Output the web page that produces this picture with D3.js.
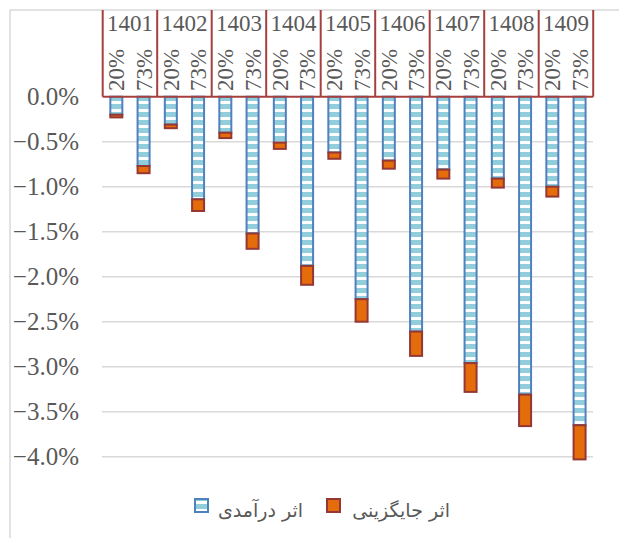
<!DOCTYPE html>
<html>
<head>
<meta charset="utf-8">
<script src="https://cdn.jsdelivr.net/npm/d3@7.9.0/dist/d3.min.js"></script>
<style>
  body { margin: 0; background: #fff; }
  svg { display: block; }
</style>
</head>
<body>
<svg id="chart" width="619" height="538"></svg>
<script>
// years on the outer category axis, rates on the inner one
const years = ['1401', '1402', '1403', '1404', '1405', '1406', '1407', '1408', '1409'];
const rates = ['20%', '73%'];

// income effect (blue, striped) in %, [20%, 73%] per year
const incomeEffect = [
    [-0.20, -0.77], [-0.31, -1.14], [-0.40, -1.52], [-0.51, -1.88], [-0.62, -2.25],
    [-0.71, -2.61], [-0.81, -2.96], [-0.91, -3.31], [-1.00, -3.65]
];
// substitution effect (orange) in %, stacked below the income effect
const substitutionEffect = [
    [-0.03, -0.08], [-0.04, -0.13], [-0.06, -0.17], [-0.07, -0.21], [-0.07, -0.25],
    [-0.09, -0.27], [-0.10, -0.32], [-0.10, -0.35], [-0.11, -0.38]
];
const yTicks = [0, -0.5, -1, -1.5, -2, -2.5, -3, -3.5, -4];
const legendLabels = ['اثر درآمدی', 'اثر جایگزینی'];

const svg = d3.select('#chart');
const gray = '#595959';
const axisRed = '#a5403f';
const serif = "'Liberation Serif', 'Times New Roman', serif";

// chart frame (right/bottom edges run off the page)
svg.append('rect')
    .attr('x', 10).attr('y', 10)
    .attr('width', 640).attr('height', 560)
    .attr('fill', 'none').attr('stroke', '#d9d9d9').attr('stroke-width', 1.5);

// stripe pattern for income bars
const defs = svg.append('defs');
const pat = defs.append('pattern')
    .attr('id', 'stripes').attr('patternUnits', 'userSpaceOnUse')
    .attr('width', 8).attr('height', 8);
pat.append('rect').attr('width', 8).attr('height', 8).attr('fill', '#ffffff');
pat.append('rect').attr('width', 8).attr('height', 5).attr('fill', '#92cddc');

const x0 = d3.scaleBand().domain(years).range([102.7, 593.2]);
const x1 = d3.scaleBand().domain(rates).range([0, x0.bandwidth()]);
const y = d3.scaleLinear().domain([-4, 0]).range([456.7, 96.7]);
const barW = 12;

// gridlines
svg.append('g')
    .selectAll('line')
    .data(yTicks.filter(d => d !== 0))
    .join('line')
    .attr('x1', 102).attr('x2', 593)
    .attr('y1', d => y(d)).attr('y2', d => y(d))
    .attr('stroke', '#d9d9d9').attr('stroke-width', 1.5);

// y axis labels
svg.append('g')
    .selectAll('text')
    .data(yTicks)
    .join('text')
    .attr('x', 79).attr('y', d => y(d))
    .attr('dy', '0.35em')
    .attr('text-anchor', 'end')
    .attr('font-family', serif)
    .attr('font-size', 25)
    .attr('fill', gray)
    .text(d => d3.format('.1f')(d) + '%');

// bars
const rows = [];
years.forEach((yr, i) => {
    rates.forEach((r, j) => {
        rows.push({ year: yr, rate: r, inc: incomeEffect[i][j], sub: substitutionEffect[i][j] });
    });
});

const bars = svg.append('g');
bars.selectAll('rect.inc')
    .data(rows)
    .join('rect')
    .attr('class', 'inc')
    .attr('x', d => x0(d.year) + x1(d.rate) + x1.bandwidth() / 2 - barW / 2)
    .attr('y', y(0))
    .attr('width', barW)
    .attr('height', d => y(d.inc) - y(0))
    .attr('fill', 'url(#stripes)')
    .attr('stroke', '#4f81bd').attr('stroke-width', 2);

bars.selectAll('rect.sub')
    .data(rows)
    .join('rect')
    .attr('class', 'sub')
    .attr('x', d => x0(d.year) + x1(d.rate) + x1.bandwidth() / 2 - barW / 2)
    .attr('y', d => y(d.inc))
    .attr('width', barW)
    .attr('height', d => y(d.inc + d.sub) - y(d.inc))
    .attr('fill', '#e46c0a')
    .attr('stroke', '#953735').attr('stroke-width', 2);

// category header (multi-level axis) at the top
const head = svg.append('g');
head.append('line')
    .attr('x1', x0.range()[0]).attr('x2', x0.range()[1])
    .attr('y1', y(0)).attr('y2', y(0))
    .attr('stroke', axisRed).attr('stroke-width', 2);
head.selectAll('line.div')
    .data(years.map(d => x0(d)).concat([x0.range()[1]]))
    .join('line')
    .attr('class', 'div')
    .attr('x1', d => d).attr('x2', d => d)
    .attr('y1', 10).attr('y2', y(0))
    .attr('stroke', axisRed).attr('stroke-width', 2);

head.selectAll('text.year')
    .data(years)
    .join('text')
    .attr('class', 'year')
    .attr('x', d => x0(d) + x0.bandwidth() / 2)
    .attr('y', 31)
    .attr('text-anchor', 'middle')
    .attr('font-family', serif)
    .attr('font-size', 23)
    .attr('fill', gray)
    .text(d => d);

head.selectAll('text.rate')
    .data(rows)
    .join('text')
    .attr('class', 'rate')
    .attr('transform', d => `translate(${x0(d.year) + x1(d.rate) + x1.bandwidth() / 2},91) rotate(-90)`)
    .attr('dy', '0.35em')
    .attr('text-anchor', 'start')
    .attr('font-family', serif)
    .attr('font-size', 23)
    .attr('fill', gray)
    .text(d => d.rate);

// legend
const legend = svg.append('g');
const legendItems = [
    { sq: 195, textRight: 303, fill: 'url(#stripes)', stroke: '#4f81bd', label: legendLabels[0] },
    { sq: 327, textRight: 450, fill: '#e46c0a', stroke: '#953735', label: legendLabels[1] }
];
legendItems.forEach(it => {
    legend.append('rect')
        .attr('x', it.sq).attr('y', 499)
        .attr('width', 13).attr('height', 13)
        .attr('fill', it.fill).attr('stroke', it.stroke).attr('stroke-width', 2);
    legend.append('text')
        .attr('x', it.textRight).attr('y', 517)
        .attr('text-anchor', 'end')
        .attr('direction', 'ltr')
        .attr('font-family', "'DejaVu Sans', sans-serif")
        .attr('font-size', 19)
        .attr('fill', gray)
        .text(it.label);
});
</script>
</body>
</html>
